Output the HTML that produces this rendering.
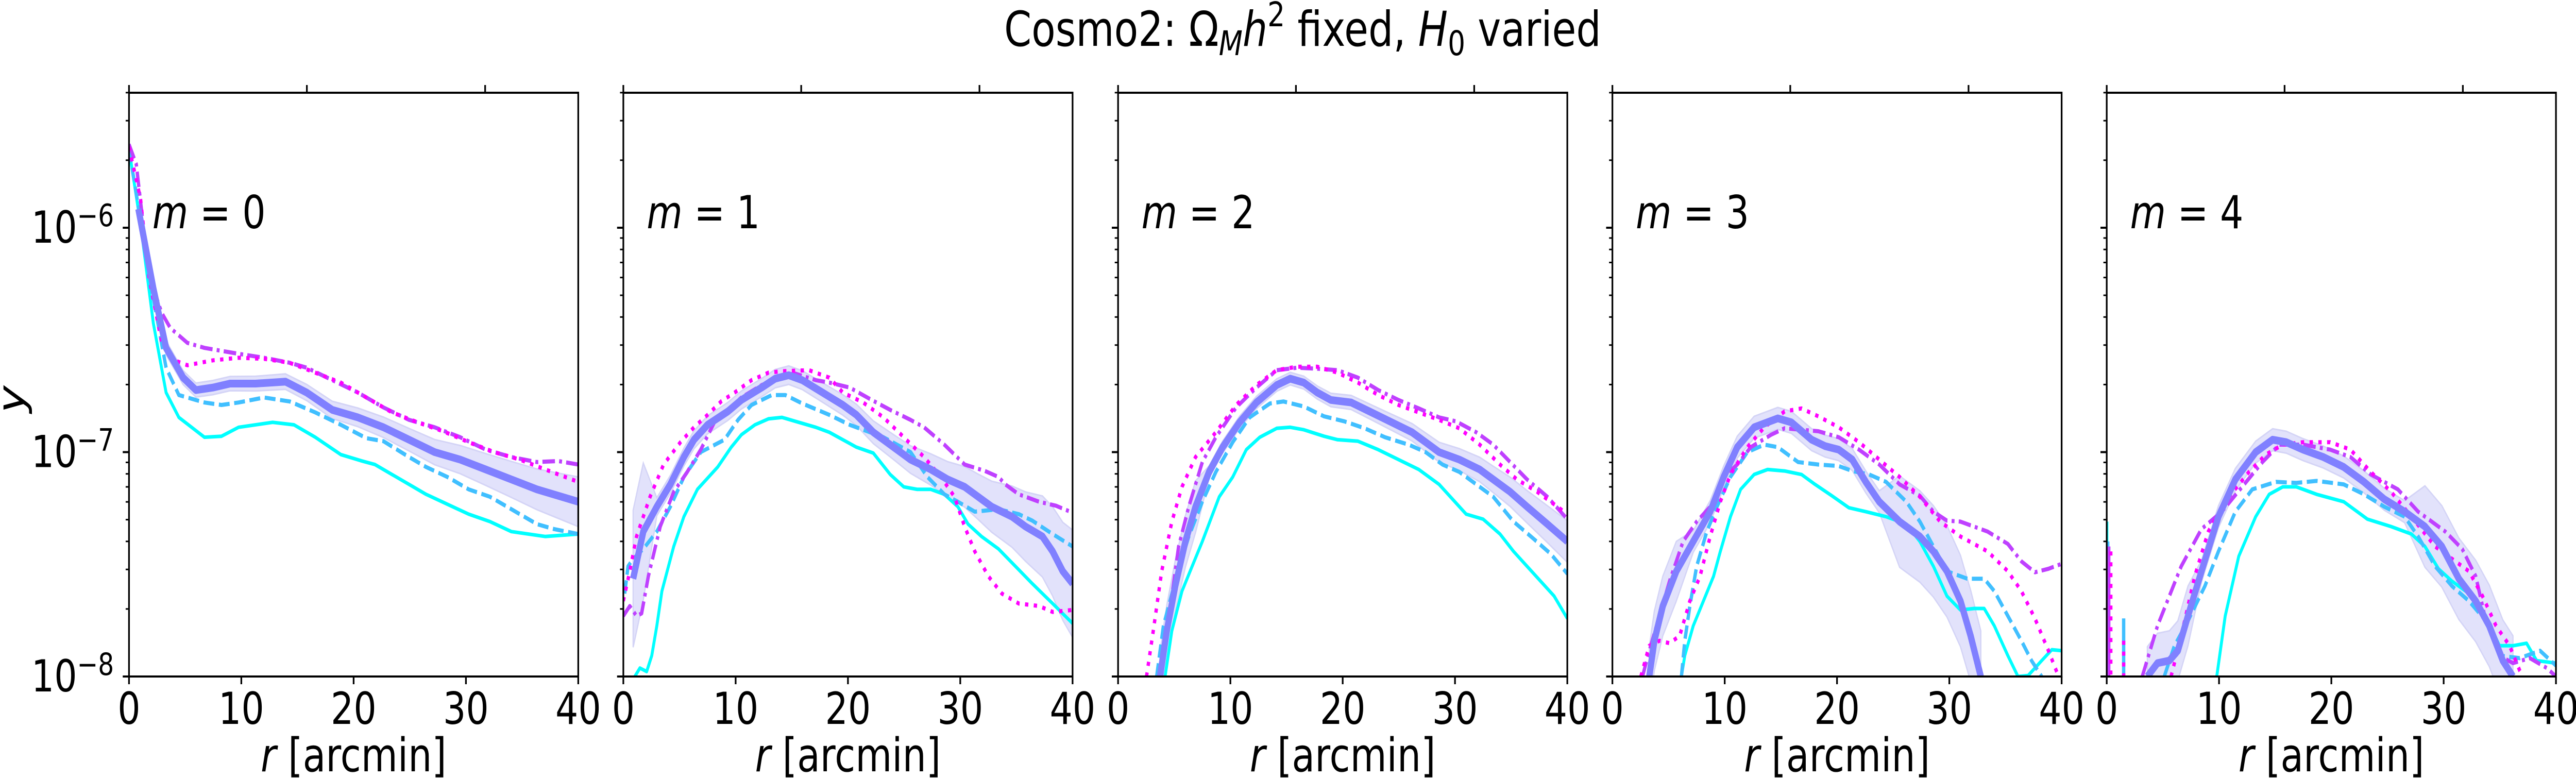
<!DOCTYPE html>
<html><head><meta charset="utf-8"><style>
html,body{margin:0;padding:0;background:#fff;overflow:hidden;width:100vw;height:100vh;}
svg{display:block;width:100vw;height:100vh;}
text{font-family:"DejaVu Sans","Liberation Sans",sans-serif;fill:#000;}
</style></head><body>
<svg id="s" viewBox="0 0 6170 1510" preserveAspectRatio="none" xmlns="http://www.w3.org/2000/svg">
<text x="3120" y="89" font-size="94" text-anchor="middle">Cosmo2: Ω<tspan font-style="italic" font-size="66" dy="18">M</tspan><tspan font-style="italic" dy="-18">h</tspan><tspan font-size="66" dy="-38">2</tspan><tspan dy="38"> fixed, </tspan><tspan font-style="italic">H</tspan><tspan font-size="66" dy="18">0</tspan><tspan dy="-18"> varied</tspan></text>
<text transform="translate(58,775) rotate(-90)" font-size="90" font-style="italic" text-anchor="middle">y</text>
<g id="g"></g>
</svg>
<script>
const NS="http://www.w3.org/2000/svg";
const g=document.getElementById('g');
function el(t,a,p){const e=document.createElementNS(NS,t);for(const k in a)e.setAttribute(k,a[k]);(p||g).appendChild(e);return e;}
const L=[309,1493,2678,3862,5046],W=1076,TOP=180,BOT=1313,DEC=435.5;
const C={mean:"#8080ff",cyan:"#00ffff",dash:"#40bfff",dd:"#bf40ff",dot:"#ff00ff"};
const P=[
{cl:303,cr:1357,m:0,
mean:[[325,420],[360,580],[390,700],[430,760],[460,785],[500,780],[540,772],[600,772],[670,768],[720,790],[780,825],[840,840],[900,860],[960,885],[1020,910],[1080,925],[1140,945],[1200,965],[1260,985],[1357,1010]],
cyan:[[303,300],[330,450],[360,650],[390,790],[420,840],[480,880],[520,878],[560,860],[640,850],[690,855],[740,880],[800,915],[850,928],[880,935],[920,955],[970,980],[1000,995],[1050,1015],[1100,1035],[1150,1050],[1200,1070],[1280,1080],[1357,1075]],
dash:[[303,300],[360,600],[390,740],[420,795],[480,810],[520,815],[560,810],[620,800],[680,808],[740,830],[800,855],[860,882],[900,888],[960,920],[1000,940],[1050,960],[1100,985],[1150,1000],[1200,1025],[1260,1055],[1300,1065],[1357,1075]],
dd:[[303,290],[320,330],[340,480],[360,580],[380,630],[400,660],[440,690],[480,700],[560,712],[620,720],[680,730],[720,740],[780,765],[840,790],[900,820],[960,845],[1020,860],[1080,880],[1140,905],[1200,920],[1260,930],[1310,928],[1357,935]],
dot:[[303,295],[330,400],[350,560],[380,690],[410,725],[440,735],[500,725],[560,720],[620,722],[680,730],[740,750],[800,770],[860,800],[920,830],[980,850],[1040,868],[1100,890],[1160,910],[1220,925],[1280,945],[1357,970]],
hw:t=>14+36*Math.pow(t,3)},
{cl:91,cr:1419,m:1,
mean:[[120,1165],[150,1070],[190,1020],[230,975],[270,920],[300,885],[340,855],[400,828],[440,805],[500,780],[540,762],[580,755],[620,765],[680,790],[740,815],[780,835],[830,870],[890,900],[940,925],[1000,945],[1050,965],[1100,980],[1140,1000],[1180,1020],[1240,1040],[1280,1060],[1330,1080],[1360,1110],[1390,1150],[1419,1175]],
cyan:[[125,1362],[140,1345],[160,1352],[175,1320],[190,1260],[205,1190],[240,1100],[270,1040],[310,985],[370,940],[410,900],[440,875],[480,855],[520,843],[560,840],[600,848],[660,860],[700,870],[740,885],[780,900],[830,912],[880,955],[920,980],[960,985],[1000,985],[1040,995],[1080,1020],[1110,1055],[1150,1080],[1200,1105],[1250,1140],[1300,1175],[1360,1215],[1419,1255]],
dash:[[95,1195],[105,1140],[120,1125],[150,1105],[190,1070],[230,1020],[270,960],[320,910],[390,885],[430,845],[470,815],[530,795],[570,795],[620,812],[700,835],[760,855],[800,865],[860,880],[900,895],[940,910],[990,960],[1040,995],[1080,1010],[1130,1030],[1200,1025],[1260,1035],[1300,1048],[1360,1075],[1419,1100]],
dd:[[91,1240],[110,1220],[130,1240],[145,1235],[165,1160],[200,1060],[240,990],[280,950],[320,905],[360,850],[400,825],[440,800],[500,775],[560,755],[600,752],[660,765],[700,770],[760,780],[820,803],[880,825],[940,845],[980,860],[1040,895],[1100,935],[1160,948],[1200,960],[1220,975],[1260,995],[1320,1010],[1370,1018],[1419,1032]],
dot:[[91,1210],[110,1150],[130,1080],[170,1000],[210,935],[260,890],[300,860],[340,835],[380,808],[420,790],[470,765],[520,750],[560,747],[640,745],[700,760],[740,790],[800,810],[860,840],[920,880],[980,920],[1030,960],[1070,1000],[1100,1060],[1130,1110],[1170,1160],[1210,1195],[1260,1215],[1320,1220],[1360,1232],[1419,1228]],
hw:t=>18+(t<0.05?120:0)+90*Math.pow(t,5)},
{cl:91,cr:1419,m:2,
mean:[[215,1362],[235,1270],[260,1180],[290,1090],[320,1020],[360,950],[400,900],[450,850],[500,810],[560,775],[600,762],[640,770],[680,790],[720,805],[780,810],[840,830],[900,850],[960,870],[1000,890],[1040,910],[1100,925],[1160,945],[1200,965],[1250,990],[1300,1020],[1360,1055],[1419,1090]],
cyan:[[230,1362],[250,1270],[280,1190],[310,1140],[340,1090],[390,1000],[430,960],[470,905],[510,880],[560,862],[600,860],[640,865],[700,878],[740,885],[800,888],[860,905],[920,925],[980,945],[1040,975],[1080,1005],[1120,1035],[1170,1045],[1220,1075],[1260,1110],[1300,1140],[1340,1170],[1380,1200],[1419,1245]],
dash:[[205,1362],[225,1260],[260,1170],[300,1080],[340,1010],[380,950],[430,890],[480,840],[540,812],[580,808],[640,818],[700,838],[760,848],[820,862],[880,880],[950,895],[1000,910],[1050,935],[1100,950],[1150,975],[1200,1000],[1260,1050],[1320,1085],[1370,1115],[1419,1155]],
dd:[[220,1362],[230,1300],[250,1200],[270,1100],[300,1020],[340,930],[380,880],[440,820],[500,780],[560,745],[620,740],[680,742],[740,745],[800,760],[860,785],[920,805],[980,822],[1040,840],[1090,848],[1150,870],[1200,895],[1250,930],[1300,965],[1360,1000],[1419,1045]],
dot:[[175,1362],[195,1270],[220,1150],[250,1050],[280,980],[320,920],[380,870],[440,815],[500,775],[560,745],[620,738],[680,738],[740,750],[800,770],[860,795],[920,815],[980,830],[1040,845],[1100,862],[1160,895],[1220,935],[1270,965],[1330,990],[1380,1015],[1419,1035]],
hw:t=>12+(t<0.2?40:0)+30*Math.pow(t,4)},
{cl:91,cr:1419,m:3,
mean:[[200,1362],[215,1290],[240,1220],[280,1150],[330,1090],[380,1030],[420,960],[460,900],[510,860],[580,842],[620,850],[680,885],[720,898],[760,905],[800,925],[840,970],[880,1010],[940,1050],[1000,1080],[1040,1110],[1080,1150],[1120,1210],[1150,1280],[1180,1362]],
cyan:[[295,1362],[305,1320],[330,1260],[360,1210],[390,1160],[410,1110],[440,1040],[470,985],[510,955],[550,945],[600,948],[650,955],[690,975],[740,998],[790,1022],[840,1030],[900,1040],[960,1055],[1000,1090],[1040,1140],[1080,1200],[1120,1228],[1160,1225],[1190,1225],[1220,1260],[1260,1320],[1290,1362],[1320,1360],[1360,1330],[1390,1308],[1419,1310]],
dash:[[295,1362],[305,1290],[320,1220],[340,1140],[370,1070],[400,1020],[440,960],[490,910],[540,895],[580,900],[640,930],[700,935],[760,938],[800,948],[850,955],[900,970],[960,1010],[1000,1050],[1040,1100],[1080,1150],[1140,1165],[1190,1165],[1220,1190],[1260,1240],[1300,1290],[1330,1330],[1360,1362]],
dd:[[180,1362],[200,1310],[230,1240],[260,1170],[300,1090],[340,1050],[380,1020],[420,960],[460,935],[500,900],[560,875],[600,862],[650,865],[700,868],[760,880],[820,905],[880,935],[940,975],[1000,998],[1040,1030],[1080,1048],[1120,1050],[1200,1070],[1260,1095],[1300,1130],[1340,1152],[1380,1145],[1419,1135]],
dot:[[175,1362],[200,1300],[230,1290],[260,1295],[290,1280],[320,1210],[350,1160],[380,1080],[410,1010],[440,955],[490,900],[540,860],[600,828],[650,822],[700,838],[760,860],[820,890],[880,925],[940,960],[1000,1000],[1060,1050],[1120,1080],[1200,1110],[1260,1150],[1300,1190],[1340,1245],[1380,1310],[1410,1362]],
hw:t=>(t<0.15?60:22)+(t>0.6?70:0)},
{cl:180,cr:1507,m:4,
mean:[[300,1362],[330,1335],[365,1330],[390,1310],[420,1240],[460,1150],[510,1040],[560,965],[620,910],[670,885],[710,890],[760,905],[820,920],[880,940],[940,970],[1000,1005],[1060,1030],[1120,1060],[1170,1100],[1220,1165],[1270,1210],[1310,1260],[1350,1330],[1380,1362]],
cyan:[[505,1362],[530,1240],[570,1120],[620,1040],[660,995],[700,980],[740,980],[800,995],[880,1010],[950,1045],[1020,1060],[1080,1075],[1120,1100],[1160,1145],[1200,1170],[1260,1200],[1300,1240],[1340,1300],[1380,1300],[1420,1295],[1450,1330],[1507,1335]],
dash:[[350,1362],[380,1300],[420,1250],[470,1180],[510,1110],[560,1030],[610,985],[680,970],[740,972],[800,968],[880,975],[940,995],[1000,1020],[1060,1040],[1100,1080],[1150,1140],[1200,1180],[1250,1210],[1300,1250],[1340,1320],[1400,1325],[1460,1310],[1507,1340]],
dd:[[285,1362],[330,1260],[400,1140],[460,1065],[520,1030],[580,980],[640,930],[690,895],[760,895],[840,905],[900,920],[960,955],[1040,985],[1100,1030],[1180,1070],[1230,1105],[1270,1160],[1300,1250],[1340,1320],[1380,1335],[1430,1325],[1480,1345],[1507,1362]],
dot:[[370,1362],[400,1280],[440,1160],[480,1070],[530,1010],[600,950],[650,915],[700,895],[760,890],[840,890],[900,905],[960,950],[1020,990],[1080,1040],[1150,1100],[1200,1125],[1250,1150],[1290,1200],[1330,1260],[1370,1300],[1400,1350],[1410,1362]],
hw:t=>(t<0.2?60:22)+(t>0.7?60:0),
spikes:[[180,1050,"cyan"],[183,1090,"dash"],[186,1100,"dd"],[192,1110,"dot"],[230,1245,"dash"],[230,1290,"dot"]]}
];
function pd(pts){return "M"+pts.map(p=>p[0].toFixed(1)+","+p[1].toFixed(1)).join("L");}
P.forEach((p,i)=>{
  const x0=L[i];
  const X=xc=>x0+(xc-p.cl)/(p.cr-p.cl)*W;
  const Y=yc=>BOT-(1362-yc)/452*DEC;
  const cp=el("clipPath",{id:"c"+i});el("rect",{x:x0,y:TOP,width:W,height:BOT-TOP},cp);
  const pg=el("g",{"clip-path":"url(#c"+i+")"});
  const up=[],lo=[];
  p.mean.forEach(q=>{const t=(q[0]-p.cl)/(p.cr-p.cl);const h=p.hw(t);up.push([X(q[0]),Y(q[1]-h)]);lo.push([X(q[0]),Y(q[1]+h)]);});
  el("path",{d:pd(up.concat(lo.reverse()))+"Z",fill:"#e2e2fb",stroke:"#d4d4f6","stroke-width":3},pg);
  const tr=a=>a.map(q=>[X(q[0]),Y(q[1])]);
  const sty={cyan:{w:7,da:""},dash:{w:8,da:"26 11"},dd:{w:8,da:"30 10 7 10"},dot:{w:8,da:"8 13"},mean:{w:15,da:""}};
  ["cyan","dash","dd","dot","mean"].forEach(k=>{
    const a={d:pd(tr(p[k])),fill:"none",stroke:C[k],"stroke-width":sty[k].w,"stroke-linejoin":"round"};
    if(sty[k].da)a["stroke-dasharray"]=sty[k].da;
    el("path",a,pg);
  });
  (p.spikes||[]).forEach(s=>{const a={d:"M"+X(s[0])+","+Y(s[1])+"V"+BOT,stroke:C[s[2]],"stroke-width":8};if(s[2]=="dot")a["stroke-dasharray"]="8 13";el("path",a,pg);});
  el("rect",{x:x0,y:TOP,width:W,height:BOT-TOP,fill:"none",stroke:"#000","stroke-width":4});
  for(let k=0;k<=4;k++){const x=x0+k*W/4;el("line",{x1:x,x2:x,y1:BOT,y2:BOT+15,stroke:"#000","stroke-width":4});
    const t=el("text",{x:x,y:1405,"font-size":86,"text-anchor":"middle"});t.textContent=String(k*10);}
  [426,853].forEach(o=>el("line",{x1:x0+o,x2:x0+o,y1:TOP,y2:TOP-15,stroke:"#000","stroke-width":4}));
  el("line",{x1:x0,x2:x0,y1:TOP,y2:TOP-15,stroke:"#000","stroke-width":4});
  for(let d=0;d<3;d++){for(let m=1;m<10;m++){const v=d+Math.log10(m);const y=BOT-v*DEC;if(y<TOP-1)continue;
    el("line",{x1:x0,x2:x0-(m==1?15:8),y1:y,y2:y,stroke:"#000","stroke-width":m==1?4:3});}}
  const xl=el("text",{x:x0+W/2,y:1497,"font-size":90,"text-anchor":"middle"});
  xl.innerHTML='<tspan font-style="italic">r</tspan> [arcmin]';
  const ml=el("text",{x:x0+56,y:443,"font-size":88});
  ml.innerHTML='<tspan font-style="italic">m</tspan> = '+p.m;
});
[[-6],[-7],[-8]].forEach(a=>{const e=a[0];const y=BOT-(e+8)*DEC;
  const t=el("text",{x:273,y:y+29,"font-size":86,"text-anchor":"end"});
  t.innerHTML='10<tspan font-size="60" dy="-32">−'+(-e)+'</tspan>';});
</script>
</body></html>
